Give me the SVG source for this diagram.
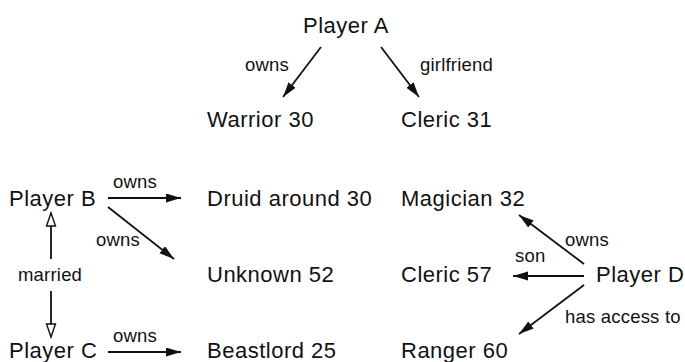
<svg xmlns="http://www.w3.org/2000/svg" width="685" height="362" viewBox="0 0 685 362">
<defs>
<style>
.n{font-family:"Liberation Sans",Arial,sans-serif;font-size:22px;letter-spacing:0.5px;fill:#111}
.l{font-family:"Liberation Sans",Arial,sans-serif;font-size:18.5px;letter-spacing:0.2px;fill:#111}
.c{stroke:#111;stroke-width:1.8;fill:none}
.f{marker-end:url(#ah)}
.h{marker-end:url(#hh)}
</style>
<marker id="ah" markerUnits="userSpaceOnUse" markerWidth="18" markerHeight="12" refX="15" refY="4.5" orient="auto">
<path d="M0,0 L15,4.5 L0,9 z" fill="#111"/>
</marker>
<marker id="hh" markerUnits="userSpaceOnUse" markerWidth="18" markerHeight="14" refX="14" refY="6" orient="auto">
<path d="M1,1.5 L14,6 L1,10.5 z" fill="#fff" stroke="#111" stroke-width="1.4"/>
</marker>
</defs>
<rect width="685" height="362" fill="#fff"/>
<g id="connectors">
<line class="c f" x1="321" y1="47" x2="283" y2="97"/>
<line class="c f" x1="381" y1="47" x2="419" y2="97"/>
<line class="c f" x1="108" y1="198" x2="181" y2="198"/>
<line class="c f" x1="108" y1="207" x2="174" y2="259"/>
<line class="c h" x1="51" y1="259" x2="51" y2="213"/>
<line class="c h" x1="51" y1="291" x2="51" y2="337"/>
<line class="c f" x1="108" y1="352" x2="181" y2="352"/>
<line class="c f" x1="584" y1="264" x2="519" y2="215"/>
<line class="c f" x1="584" y1="276" x2="513" y2="276"/>
<line class="c f" x1="584" y1="285" x2="519" y2="334"/>
<text class="l" x="245" y="71">owns</text>
<text class="l" x="420" y="71">girlfriend</text>
<text class="l" x="113" y="188">owns</text>
<text class="l" x="96" y="246">owns</text>
<text class="l" x="18" y="281">married</text>
<text class="l" x="113" y="342">owns</text>
<text class="l" x="515" y="262">son</text>
<text class="l" x="565" y="246">owns</text>
<text class="l" x="565" y="323">has access to</text>
</g>
<g id="playerA"><text class="n" x="303" y="33">Player A</text></g>
<g id="warrior30"><text class="n" x="207" y="127">Warrior 30</text></g>
<g id="cleric31"><text class="n" x="401" y="127">Cleric 31</text></g>
<g id="playerB"><text class="n" x="9" y="206">Player B</text></g>
<g id="druid30"><text class="n" x="207" y="206">Druid around 30</text></g>
<g id="magician32"><text class="n" x="401" y="206">Magician 32</text></g>
<g id="unknown52"><text class="n" x="207" y="282">Unknown 52</text></g>
<g id="cleric57"><text class="n" x="401" y="282">Cleric 57</text></g>
<g id="playerD"><text class="n" x="596" y="282">Player D</text></g>
<g id="playerC"><text class="n" x="9" y="358">Player C</text></g>
<g id="beastlord25"><text class="n" x="207" y="358">Beastlord 25</text></g>
<g id="ranger60"><text class="n" x="401" y="358">Ranger 60</text></g>
</svg>
